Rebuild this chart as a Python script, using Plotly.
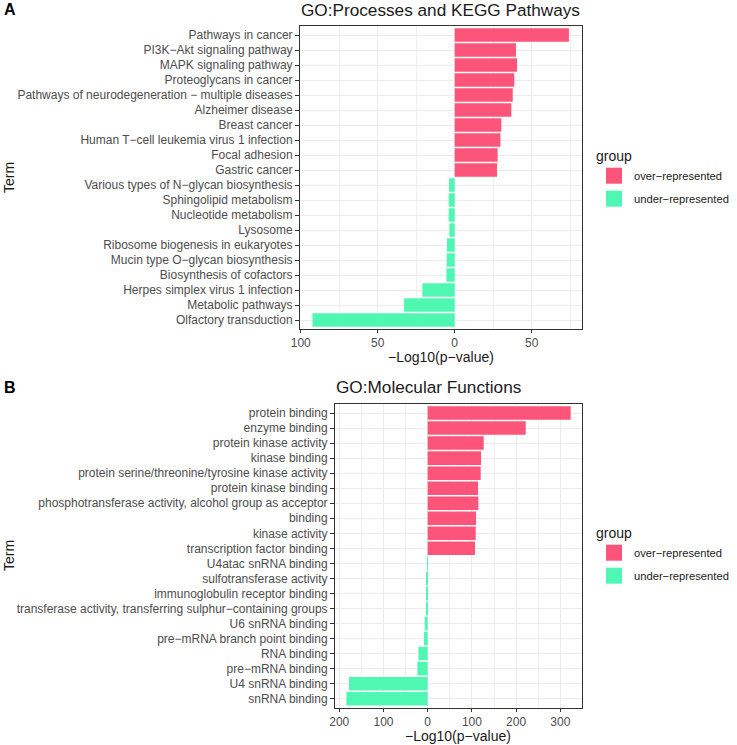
import plotly.graph_objects as go

# ---------------- data ----------------
terms_a_over = ["Pathways in cancer", "PI3K−Akt signaling pathway", "MAPK signaling pathway",
                "Proteoglycans in cancer", "Pathways of neurodegeneration − multiple diseases",
                "Alzheimer disease", "Breast cancer", "Human T−cell leukemia virus 1 infection",
                "Focal adhesion", "Gastric cancer"]
vals_a_over = [74.2, 39.8, 40.5, 38.7, 37.7, 36.8, 30.3, 29.7, 27.9, 27.5]
terms_a_under = ["Various types of N−glycan biosynthesis", "Sphingolipid metabolism",
                 "Nucleotide metabolism", "Lysosome", "Ribosome biogenesis in eukaryotes",
                 "Mucin type O−glycan biosynthesis", "Biosynthesis of cofactors",
                 "Herpes simplex virus 1 infection", "Metabolic pathways", "Olfactory transduction"]
vals_a_under = [3.7, 3.9, 3.9, 3.5, 5.0, 5.2, 5.4, 21.0, 32.9, 92.4]

terms_b_over = ["protein binding", "enzyme binding", "protein kinase activity", "kinase binding",
                "protein serine/threonine/tyrosine kinase activity", "protein kinase binding",
                "phosphotransferase activity, alcohol group as acceptor", "binding",
                "kinase activity", "transcription factor binding"]
vals_b_over = [323.5, 221.7, 126.7, 120.7, 119.9, 113.9, 114.6, 109.4, 108.6, 107.1]
terms_b_under = ["U4atac snRNA binding", "sulfotransferase activity", "immunoglobulin receptor binding",
                 "transferase activity, transferring sulphur−containing groups", "U6 snRNA binding",
                 "pre−mRNA branch point binding", "RNA binding", "pre−mRNA binding",
                 "U4 snRNA binding", "snRNA binding"]
vals_b_under = [1.5, 1.6, 3.0, 3.8, 6.8, 8.3, 21.0, 23.4, 178.0, 184.0]

ticks_a = [-100, -50, 0, 50]
ticklabels_a = ["100", "50", "0", "50"]
minor_a = [-75, -25, 25, 75]
ticks_b = [-200, -100, 0, 100, 200, 300]
ticklabels_b = ["200", "100", "0", "100", "200", "300"]
minor_b = [-150, -50, 50, 150, 250]

groups = ["over−represented", "under−represented"]
title_a = "GO:Processes and KEGG Pathways"
title_b = "GO:Molecular Functions"
xlabel = "−Log10(p−value)"
ylabel = "Term"

# ---------------- style ----------------
PINK = "#FD5479"
MINT = "#50F7B3"
FONT = "Liberation Sans, Arial, sans-serif"
W, H = 737, 745

def px(x):
    return x / W

def py(y):
    return 1 - y / H

fig = go.Figure()

bar_kw = dict(orientation="h", marker_line_width=0, width=0.9, showlegend=False)
fig.add_trace(go.Bar(x=vals_a_over, y=terms_a_over, marker_color=PINK, name=groups[0],
                     xaxis="x", yaxis="y", **bar_kw))
fig.add_trace(go.Bar(x=[-v for v in vals_a_under], y=terms_a_under, marker_color=MINT,
                     name=groups[1], xaxis="x", yaxis="y", **bar_kw))
fig.add_trace(go.Bar(x=vals_b_over, y=terms_b_over, marker_color=PINK, name=groups[0],
                     xaxis="x2", yaxis="y2", **bar_kw))
fig.add_trace(go.Bar(x=[-v for v in vals_b_under], y=terms_b_under, marker_color=MINT,
                     name=groups[1], xaxis="x2", yaxis="y2", **bar_kw))

# legend keys (one legend per panel)
for lg, xa, ya in [("legend", "x", "y"), ("legend2", "x2", "y2")]:
    for g, c in zip(groups, [PINK, MINT]):
        fig.add_trace(go.Scatter(x=[None], y=[None], mode="markers", name=g,
                                 marker=dict(symbol="square", size=20, color=c),
                                 xaxis=xa, yaxis=ya, legend=lg, showlegend=True,
                                 legendgroup=lg + g))

cats_a = terms_a_over + terms_a_under
cats_b = terms_b_over + terms_b_under

axis_common = dict(showline=True, mirror=True, linecolor="#333333", linewidth=1,
                   gridcolor="#EBEBEB", gridwidth=1, zeroline=False, ticks="outside",
                   tickcolor="#333333", tickfont=dict(family=FONT, size=12, color="#4D4D4D"))

legend_common = dict(xanchor="left", yanchor="top", tracegroupgap=4,
                     title=dict(text="group", font=dict(family=FONT, size=14, color="#1A1A1A")),
                     font=dict(family=FONT, size=11.2, color="#1A1A1A"),
                     bgcolor="rgba(0,0,0,0)", itemsizing="trace")

fig.update_layout(
    width=W, height=H, margin=dict(l=0, r=0, t=0, b=0, autoexpand=False),
    paper_bgcolor="white", plot_bgcolor="white", barmode="overlay",
    font=dict(family=FONT),
    xaxis=dict(domain=[px(300), px(581.7)], anchor="y", range=[-100.5, 82.5],
               tickmode="array", tickvals=ticks_a, ticktext=ticklabels_a, ticklen=3,
               minor=dict(tickmode="array", tickvals=minor_a, showgrid=True,
                          gridcolor="#F0F0F0", gridwidth=1, ticks=""),
               **axis_common),
    yaxis=dict(domain=[py(329), py(26)], anchor="x", type="category",
               categoryorder="array", categoryarray=cats_a, range=[19.6, -0.6],
               ticklen=4, **axis_common),
    xaxis2=dict(domain=[px(335), px(581.7)], anchor="y2", range=[-209.7, 348.4],
                tickmode="array", tickvals=ticks_b, ticktext=ticklabels_b, ticklen=3,
                minor=dict(tickmode="array", tickvals=minor_b, showgrid=True,
                           gridcolor="#F0F0F0", gridwidth=1, ticks=""),
                **axis_common),
    yaxis2=dict(domain=[py(707.7), py(404)], anchor="x2", type="category",
                categoryorder="array", categoryarray=cats_b, range=[19.6, -0.6],
                ticklen=4, **axis_common),
    legend=dict(x=px(594), y=py(143), **legend_common),
    legend2=dict(x=px(594), y=py(520), **legend_common),
)

ann = []
ann.append(dict(text="<b>A</b>", x=px(2), y=py(10), xanchor="left", yanchor="middle",
                font=dict(family=FONT, size=16, color="black")))
ann.append(dict(text="<b>B</b>", x=px(2), y=py(388), xanchor="left", yanchor="middle",
                font=dict(family=FONT, size=16, color="black")))
ann.append(dict(text=title_a, x=px(299), y=py(10), xanchor="left", yanchor="middle",
                font=dict(family=FONT, size=17.2, color="#1A1A1A")))
ann.append(dict(text=title_b, x=px(334), y=py(387), xanchor="left", yanchor="middle",
                font=dict(family=FONT, size=17.2, color="#1A1A1A")))
ann.append(dict(text=xlabel, x=px(441), y=py(357), xanchor="center", yanchor="middle",
                font=dict(family=FONT, size=14, color="#1A1A1A")))
ann.append(dict(text=xlabel, x=px(458), y=py(736), xanchor="center", yanchor="middle",
                font=dict(family=FONT, size=14, color="#1A1A1A")))
ann.append(dict(text=ylabel, x=px(9), y=py(178), xanchor="center", yanchor="middle",
                textangle=-90, font=dict(family=FONT, size=14, color="#1A1A1A")))
ann.append(dict(text=ylabel, x=px(9), y=py(556), xanchor="center", yanchor="middle",
                textangle=-90, font=dict(family=FONT, size=14, color="#1A1A1A")))
for a in ann:
    a.update(xref="paper", yref="paper", showarrow=False)
fig.update_layout(annotations=ann)

fig.write_html("out.html", config={"displayModeBar": False},
               post_script="document.body.style.margin='0';")
